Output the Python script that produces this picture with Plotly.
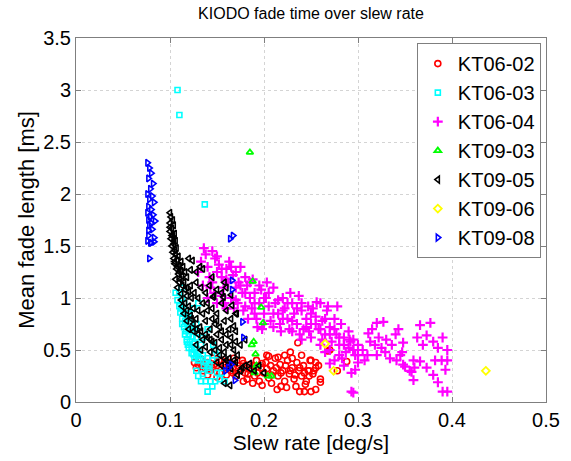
import plotly.graph_objects as go

# ---------------- data ----------------
kt0602_x = [0.126,0.13,0.133,0.137,0.14,0.143,0.146,0.15,0.153,0.155,0.158,0.16,0.163,0.165,0.168,0.17,0.172,0.175,0.177,0.18,
            0.182,0.185,0.187,0.19,0.192,0.195,0.197,0.2,0.202,0.205,0.207,0.21,0.212,0.215,0.217,0.22,0.222,0.225,0.227,0.23,
            0.232,0.235,0.237,0.24,0.242,0.245,0.247,0.25,0.252,0.255,0.236,0.228,0.249,0.255,0.26,0.238,0.243,0.25,0.255,0.268,
            0.27,0.288,0.278,0.26,0.248,0.248,0.135,0.14,0.145,0.15,0.178,0.188,0.198,0.208,0.218,0.214,0.224,0.234,0.244,0.203,
            0.128,0.134,0.14,0.147,0.152,0.157,0.162,0.167,0.173,0.178,0.183,0.188,0.193,0.198,0.203,0.208,0.213,0.218,0.223,0.228,
            0.233,0.238,0.243,0.222,0.215,0.205,0.23,0.24,0.253,0.258]
kt0602_y = [0.38,0.36,0.41,0.33,0.38,0.30,0.42,0.35,0.28,0.40,0.33,0.26,0.38,0.30,0.42,0.25,0.35,0.30,0.40,0.28,
            0.22,0.36,0.30,0.25,0.40,0.20,0.33,0.28,0.38,0.23,0.35,0.30,0.42,0.25,0.36,0.30,0.20,0.40,0.27,0.33,
            0.22,0.38,0.30,0.25,0.35,0.20,0.30,0.40,0.27,0.33,0.57,0.48,0.40,0.38,0.19,0.10,0.10,0.10,0.12,0.49,
            0.50,0.39,0.30,0.22,0.30,0.25,0.30,0.26,0.33,0.24,0.20,0.18,0.16,0.18,0.15,0.12,0.14,0.15,0.17,0.45,
            0.33,0.37,0.32,0.36,0.40,0.36,0.34,0.28,0.32,0.37,0.27,0.35,0.28,0.37,0.32,0.26,0.33,0.28,0.35,0.30,
            0.26,0.33,0.28,0.45,0.43,0.44,0.42,0.45,0.30,0.35]

kt0603_x = [0.108,0.11,0.137,0.112,0.11,0.113,0.115,0.112,0.117,0.114,0.118,0.116,0.12,0.113,0.119,0.122,0.117,0.12,0.124,
            0.118,0.121,0.125,0.119,0.123,0.127,0.13,0.125,0.128,0.132,0.135,0.14,0.138,0.142,0.145,0.14,0.148,0.15,0.146,
            0.135,0.14,0.128,0.125,0.13,0.128,0.13,0.133,0.138,0.143,0.148,0.153,0.158,0.14,0.145,0.135,0.15,0.155,
            0.106,0.108,0.11,0.111,0.113,0.115,0.116,0.118,0.12,0.123,0.126,0.13,0.136,0.142,0.133,0.128,0.125,0.122,0.12]
kt0603_y = [3.00,2.76,1.90,1.10,1.05,1.00,0.95,0.90,0.88,0.85,0.82,0.78,0.80,0.75,0.72,0.70,0.68,0.65,0.63,
            0.60,0.58,0.56,0.55,0.52,0.50,0.48,0.46,0.44,0.42,0.45,0.42,0.38,0.36,0.40,0.33,0.50,0.45,0.55,
            0.62,0.70,0.75,0.90,0.95,0.30,0.25,0.20,0.20,0.20,0.20,0.22,0.20,0.10,0.15,0.27,0.28,0.28,
            1.05,0.98,0.92,0.86,0.80,0.72,0.65,0.58,0.52,0.47,0.42,0.40,0.35,0.30,0.55,0.62,0.68,0.75,0.85]

kt0604_x = [0.13,0.133,0.136,0.138,0.14,0.142,0.145,0.148,0.15,0.147,0.143,
            0.152,0.155,0.157,0.16,0.162,0.165,0.167,0.17,0.172,0.175,0.177,0.18,0.158,0.163,0.168,0.173,0.178,
            0.182,0.185,0.187,0.19,0.192,0.195,0.197,0.2,0.202,0.205,0.207,0.21,0.183,0.188,0.193,0.198,0.203,
            0.212,0.215,0.217,0.22,0.222,0.225,0.227,0.23,0.232,0.235,0.237,0.24,0.242,0.245,0.247,0.25,0.218,0.228,0.238,0.248,
            0.252,0.255,0.258,0.26,0.262,0.265,0.267,0.27,0.272,0.275,0.277,0.28,0.282,0.285,0.287,0.29,0.292,0.295,0.297,0.3,
            0.27,0.275,0.283,0.293,0.293,0.262,0.278,0.268,0.256,
            0.311,0.32,0.327,0.343,0.313,0.318,0.305,0.307,0.329,0.334,0.341,0.347,0.348,0.35,0.295,0.291,0.297,0.295,
            0.366,0.377,0.363,0.373,0.38,0.369,0.385,0.39,0.395,0.395,0.389,0.382,0.359,0.366,0.357,0.359,0.373,0.38,
            0.385,0.393,0.395,0.39,0.348,0.36,0.355,
            0.315,0.322,0.33,0.336,0.34,0.31,0.325,0.345,0.3,0.32,
            0.145,0.15,0.155,0.16,0.165,0.17,0.175,0.18,0.185,0.19,0.195,0.2,0.205,0.21,0.215,0.22,0.225,0.23,0.235,0.24,
            0.245,0.25,0.255,0.26,0.265,0.27,0.275,0.28,0.285,0.29,0.295,0.3,0.17,0.18,0.19,0.2,0.21,0.22,0.23,0.24,
            0.25,0.26,0.27,0.28,0.285,0.265,0.14,0.15,0.16,0.135,0.155]
kt0604_y = [1.25,1.35,1.48,1.42,1.30,1.20,1.15,1.38,1.25,1.05,1.10,
            1.32,1.20,1.10,1.28,1.15,1.00,1.22,1.10,0.95,1.30,1.05,1.20,0.95,1.35,0.90,1.15,0.88,
            1.12,1.00,0.90,1.05,0.80,0.95,1.08,0.85,1.00,0.92,0.78,1.10,0.80,1.18,0.72,0.70,1.15,
            0.95,0.85,0.75,1.00,0.90,0.80,0.70,0.95,0.85,0.75,1.02,0.88,0.70,0.80,0.92,0.75,0.68,1.05,0.65,0.68,
            0.90,0.82,0.70,0.95,0.78,0.65,0.88,0.72,0.58,0.80,0.65,0.55,0.75,0.62,0.48,0.68,0.58,0.50,0.45,0.55,
            0.37,0.40,0.42,0.28,0.10,0.60,0.92,0.92,0.96,
            0.66,0.76,0.77,0.70,0.58,0.55,0.50,0.40,0.48,0.42,0.40,0.48,0.57,0.34,0.50,0.60,0.31,0.09,
            0.74,0.76,0.62,0.64,0.58,0.55,0.52,0.62,0.50,0.40,0.40,0.40,0.40,0.39,0.29,0.21,0.33,0.26,
            0.19,0.31,0.10,0.10,0.36,0.33,0.30,
            0.70,0.62,0.60,0.55,0.65,0.45,0.52,0.45,0.38,0.45,
            1.45,1.40,1.28,1.18,1.30,1.25,1.12,1.05,1.15,0.95,1.12,1.00,1.05,0.85,0.98,0.88,0.95,0.78,0.90,0.95,
            0.72,0.85,0.75,0.70,0.80,0.65,0.70,0.62,0.55,0.52,0.60,0.45,0.98,0.92,0.85,0.75,0.72,0.80,0.68,0.60,
            0.62,0.55,0.50,0.45,0.35,0.48,1.00,0.95,0.90,1.12,1.02]

kt0903_x = [0.185,0.188,0.197,0.199,0.189,0.187,0.191,0.192,0.19,0.204,0.208]
kt0903_y = [2.40,1.16,0.91,0.76,0.58,0.55,0.46,0.35,0.28,0.25,0.25]

kt0905_x = [0.1,0.101,0.103,0.1,0.104,0.102,0.1,0.105,0.103,0.101,0.106,0.104,0.102,0.107,0.105,
            0.103,0.106,0.109,0.104,0.108,0.112,0.105,0.11,0.114,0.107,0.112,0.116,0.109,0.113,0.118,0.12,0.124,0.122,0.128,0.132,0.135,0.145,
            0.106,0.11,0.113,0.108,0.116,0.12,0.112,0.118,0.123,0.128,0.133,0.138,0.142,0.147,0.15,0.155,0.16,0.165,0.158,0.157,0.166,0.146,0.171,
            0.112,0.116,0.12,0.125,0.13,0.115,0.122,0.128,0.135,0.14,0.145,0.15,0.155,0.16,0.165,0.17,0.118,0.125,0.132,0.138,0.143,0.148,0.153,0.158,0.163,0.168,0.12,
            0.125,0.13,0.135,0.14,0.145,0.15,0.155,0.16,0.165,0.17,0.128,0.133,0.138,0.143,0.148,0.153,0.158,0.163,0.168,0.172,0.175,0.18,
            0.15,0.155,0.16,0.165,0.17,0.175,0.18,0.185,0.19,0.195,0.2,0.172,0.164,0.158,0.177,0.185,
            0.105,0.11,0.115,0.118,0.122,0.126,0.13,0.135,0.14,0.145,0.15,0.155,0.16,0.165,0.17,0.113,0.118,0.123,0.128,0.133,
            0.138,0.143,0.148,0.153,0.158,0.163,0.168,0.108,0.111,0.102,0.104,0.1]
kt0905_y = [1.82,1.78,1.75,1.72,1.70,1.67,1.64,1.62,1.60,1.57,1.55,1.52,1.50,1.48,1.46,
            1.44,1.42,1.40,1.38,1.36,1.35,1.33,1.31,1.30,1.28,1.26,1.25,1.23,1.21,1.20,1.38,1.36,1.27,1.25,1.30,1.28,1.20,
            1.18,1.15,1.12,1.10,1.08,1.06,1.04,1.02,1.00,1.15,1.10,1.05,1.12,1.02,1.08,1.05,1.10,1.03,1.15,1.01,0.93,1.01,0.85,
            0.98,0.95,0.92,0.90,0.88,0.85,0.83,0.80,0.85,0.95,0.90,0.85,0.95,0.88,0.80,0.85,0.78,0.75,0.72,0.78,0.70,0.75,0.72,0.78,0.70,0.73,0.70,
            0.68,0.65,0.60,0.62,0.58,0.65,0.60,0.55,0.62,0.58,0.55,0.50,0.53,0.48,0.50,0.45,0.48,0.42,0.50,0.45,0.55,0.60,
            0.38,0.35,0.40,0.32,0.38,0.30,0.35,0.32,0.30,0.35,0.28,0.26,0.16,0.18,0.33,0.37,
            1.35,1.25,1.15,1.10,1.12,1.05,1.00,0.95,0.88,0.80,0.78,0.68,0.65,0.55,0.68,0.92,0.88,0.80,0.70,0.68,
            0.65,0.60,0.57,0.52,0.42,0.36,0.40,1.30,1.18,1.60,1.55,1.68]

kt0906_x = [0.265,0.274,0.436]
kt0906_y = [0.56,0.30,0.30]

kt0908_x = [0.076,0.078,0.08,0.077,0.082,0.079,0.076,0.081,0.078,0.083,0.077,0.08,0.076,0.082,0.079,0.077,0.084,0.08,0.078,
            0.081,0.077,0.083,0.076,0.08,0.078,0.079,0.083,0.077,
            0.164,0.167,0.166,0.166,0.177,0.178,0.162,0.159,0.165,0.169]
kt0908_y = [2.30,2.25,2.20,2.15,2.10,2.05,2.00,1.98,1.95,1.92,1.88,1.85,1.82,1.80,1.78,1.75,1.74,1.72,1.70,
            1.66,1.65,1.58,1.55,1.53,1.38,1.53,1.54,1.60,
            1.57,1.60,1.17,1.08,0.77,0.62,0.33,0.30,0.36,0.21]

series = [
    ("KT06-02", kt0602_x, kt0602_y, "circle-open", "#ff0000", 6, 1.6),
    ("KT06-03", kt0603_x, kt0603_y, "square-open", "#00ffff", 5, 1.6),
    ("KT06-04", kt0604_x, kt0604_y, "cross-thin-open", "#ff00ff", 7, 2.2),
    ("KT09-03", kt0903_x, kt0903_y, "triangle-up-open", "#00ff00", 6, 1.8),
    ("KT09-05", kt0905_x, kt0905_y, "triangle-left-open", "#000000", 6, 1.6),
    ("KT09-06", kt0906_x, kt0906_y, "diamond-open", "#ffff00", 6, 1.8),
    ("KT09-08", kt0908_x, kt0908_y, "triangle-right-open", "#0000ff", 6, 1.6),
]

FONT = "Liberation Sans, Arial, Helvetica, sans-serif"

fig = go.Figure()
for name, xs, ys, sym, col, sz, lw in series:
    fig.add_trace(go.Scatter(
        x=xs, y=ys, mode="markers", name=name,
        marker=dict(symbol=sym, size=sz, color=col, line=dict(color=col, width=lw)),
    ))

axis_common = dict(
    showgrid=True, gridcolor="#d4d4d4", griddash="dot", gridwidth=1,
    zeroline=False, showline=True, linecolor="#7f7f7f", linewidth=1,
    mirror="ticks", ticks="inside", ticklen=5, tickcolor="#7f7f7f",
    tickfont=dict(family=FONT, size=20, color="#000000"),
)

fig.update_layout(
    width=571, height=461,
    margin=dict(l=76, r=25, t=38, b=59),
    paper_bgcolor="white", plot_bgcolor="white",
    title=dict(text="KIODO fade time over slew rate", x=0.5, xref="paper", xanchor="center",
               y=0.972, yanchor="middle", font=dict(family=FONT, size=16, color="#000")),
    xaxis=dict(range=[0, 0.5], tickvals=[0, 0.1, 0.2, 0.3, 0.4, 0.5],
               ticktext=["0", "0.1", "0.2", "0.3", "0.4", "0.5"],
               title=dict(text="Slew rate [deg/s]", standoff=1,
                          font=dict(family=FONT, size=21, color="#000")),
               **axis_common),
    yaxis=dict(range=[0, 3.5], tickvals=[0, 0.5, 1, 1.5, 2, 2.5, 3, 3.5],
               ticktext=["0", "0.5", "1", "1.5", "2", "2.5", "3", "3.5"],
               title=dict(text="Mean fade length [ms]", standoff=2,
                          font=dict(family=FONT, size=22, color="#000")),
               **axis_common),
    legend=dict(x=0.989, y=0.986, xanchor="right", yanchor="top",
                bgcolor="white", bordercolor="#7f7f7f", borderwidth=1,
                font=dict(family=FONT, size=20, color="#000"),
                tracegroupgap=0),
    showlegend=True,
)

fig.write_html("out.html")
